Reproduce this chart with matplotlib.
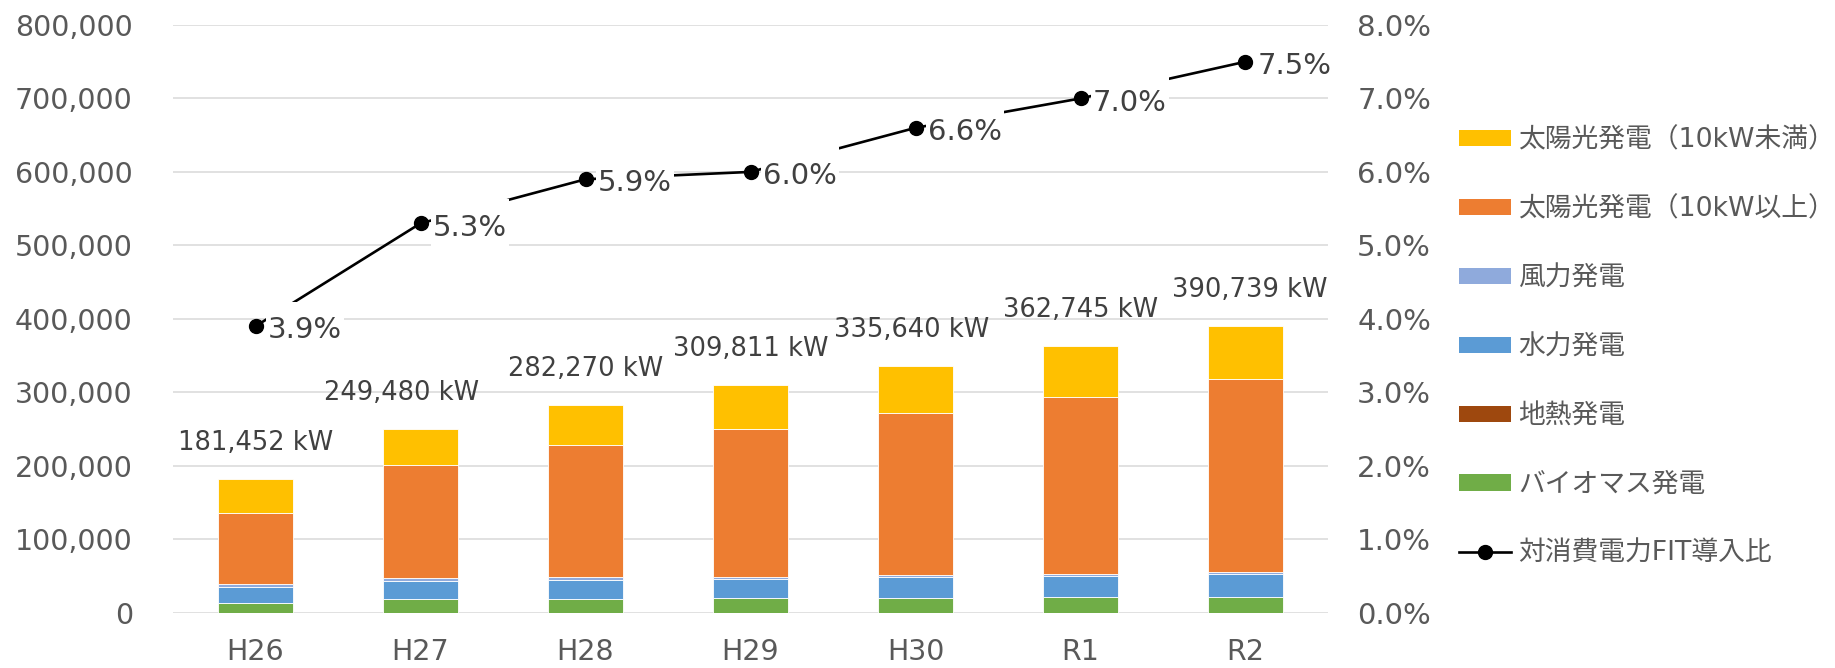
import matplotlib.pyplot as plt
from matplotlib.ticker import FuncFormatter
from matplotlib.lines import Line2D
from matplotlib.patches import Patch
from matplotlib.path import Path
import numpy as np

plt.rcParams['font.family'] = ['DejaVu Sans', 'Noto Sans CJK JP']

years = ['H26', 'H27', 'H28', 'H29', 'H30', 'R1', 'R2']

# kW by source
biomass = [13600, 19100, 19100, 19500, 19500, 20900, 20900]
geothermal = [50, 100, 150, 250, 300, 400, 500]
hydro = [21800, 24500, 25400, 25500, 28700, 28600, 31400]
wind = [3000, 3300, 3700, 3600, 3200, 3200, 3200]
solar_large = [97500, 153400, 179300, 200800, 220600, 239900, 262400]
solar_small = [45502, 49080, 54620, 60161, 63340, 69745, 72339]
totals = [181452, 249480, 282270, 309811, 335640, 362745, 390739]

# FIT share of consumption (%)
fit_ratio = [3.9, 5.3, 5.9, 6.0, 6.6, 7.0, 7.5]

series = [
    ('バイオマス発電', biomass, '#70AD47'),
    ('地熱発電', geothermal, '#9E480E'),
    ('水力発電', hydro, '#5B9BD5'),
    ('風力発電', wind, '#8FAADC'),
    ('太陽光発電（10kW以上）', solar_large, '#ED7D31'),
    ('太陽光発電（10kW未満）', solar_small, '#FFC000'),
]

txt = '#595959'
lbl = '#404040'


def label_box(x0, y0, width, height, mutation_size):
    # white box, taller above the text so it hides the line behind the label
    px = 0.06 * mutation_size
    top = 0.5 * mutation_size
    bot = 0.15 * mutation_size
    verts = [(x0 - px, y0 - bot), (x0 + width + px, y0 - bot),
             (x0 + width + px, y0 + height + top), (x0 - px, y0 + height + top),
             (x0 - px, y0 - bot)]
    return Path(verts, closed=True)


fig = plt.figure(figsize=(18.35, 6.68), dpi=100)
ax = fig.add_axes([0.0943, 0.0828, 0.6294, 0.8798])
x = np.arange(len(years))
bottom = np.zeros(len(years))
for name, vals, col in series:
    ax.bar(x, vals, width=0.4545, bottom=bottom, color=col,
           edgecolor='white', linewidth=0.6, zorder=2)
    bottom += np.array(vals)

# total labels above each bar
shift = [0, -14, 0, 0, -3, 0, 3]
for i, t in enumerate(totals):
    ax.annotate(f'{t:,} kW', (x[i], bottom[i]), xytext=(shift[i], 26),
                textcoords='offset points', ha='center', va='center',
                fontsize=18.5, color=lbl)

ax.set_xlim(-0.5, len(years) - 0.5)
ax.set_ylim(0, 800000)
ax.set_yticks(np.arange(0, 800001, 100000))
ax.yaxis.set_major_formatter(FuncFormatter(lambda v, p: f'{int(v):,}'))
ax.grid(axis='y', color='#D9D9D9', linewidth=1.1, zorder=0)
ax.set_axisbelow(True)
ax.set_xticks(x)
ax.set_xticklabels(years)
ax.tick_params(axis='both', length=0, labelsize=20.5, labelcolor=txt)
ax.tick_params(axis='y', pad=29)
ax.tick_params(axis='x', pad=18)
for s in ax.spines.values():
    s.set_visible(False)

ax2 = ax.twinx()
ax2.plot(x, fit_ratio, color='black', linewidth=1.9, marker='o',
         markersize=10, zorder=3)
for i, v in enumerate(fit_ratio):
    ax2.annotate(f'{v:.1f}%', (x[i], v), xytext=(9, -3),
                 textcoords='offset points', ha='left', va='center',
                 fontsize=21, color=lbl, zorder=4,
                 bbox=dict(boxstyle=label_box, fc='white', ec='none'))
ax2.set_ylim(0, 8)
ax2.set_yticks(np.arange(0, 8.01, 1))
ax2.yaxis.set_major_formatter(FuncFormatter(lambda v, p: f'{v:.1f}%'))
ax2.tick_params(axis='y', length=0, labelsize=21, labelcolor=txt, pad=21)
for s in ax2.spines.values():
    s.set_visible(False)

handles = [Patch(facecolor=c, edgecolor='none') for _, _, c in series[::-1]]
labels = [n for n, _, _ in series[::-1]]
handles.append(Line2D([], [], color='black', linewidth=1.9, marker='o', markersize=10))
labels.append('対消費電力FIT導入比')
fig.legend(handles, labels, loc='center left', bbox_to_anchor=(0.795, 0.480),
           frameon=False, fontsize=19.3, labelcolor=txt, handlelength=1.95,
           handleheight=0.57, handletextpad=0.25, labelspacing=1.6, borderpad=0,
           borderaxespad=0)

fig.savefig('out.png', dpi=100)
